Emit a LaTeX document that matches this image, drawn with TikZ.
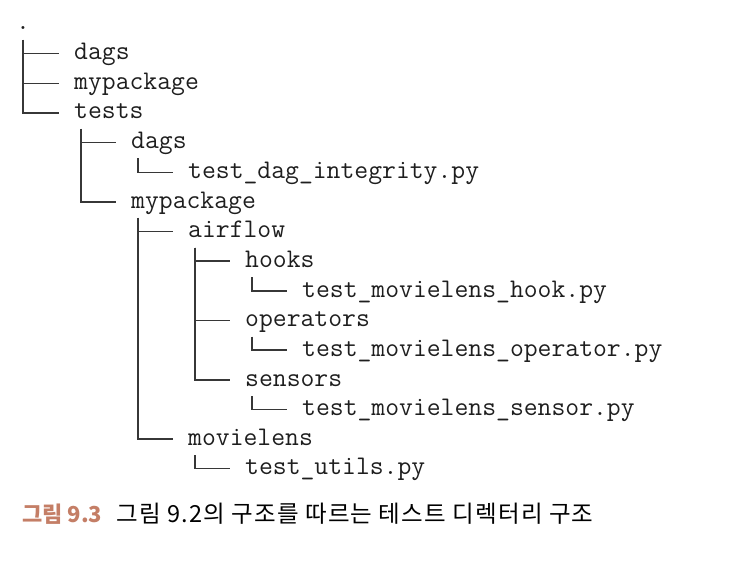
\documentclass[tikz,border=0pt]{standalone}
\usepackage{fontspec}
\newfontfamily\kofont{Noto Sans CJK KR}
\newfontfamily\kocapfont[LetterSpace=5]{Noto Sans CJK KR}
\usetikzlibrary{positioning}
\definecolor{figred}{RGB}{196,126,102}
\definecolor{treegray}{RGB}{55,55,55}
\definecolor{textgray}{RGB}{30,30,30}

\begin{document}
\begin{tikzpicture}[x=1pt, y=1pt,
    main/.style = {anchor=base west, inner sep=0pt, text=textgray, font=\fontsize{26.9}{30}\selectfont\ttfamily},
    branch/.style = {draw=treegray, line width=1.2pt, shorten >=15pt},
    figlabel/.style = {anchor=base west, inner sep=0pt, text=figred, font=\fontsize{22}{26}\selectfont\kofont\bfseries},
    caption/.style = {inner sep=0pt, text=black, font=\fontsize{23.5}{27}\selectfont\kocapfont}]
    \useasboundingbox (0,0) rectangle (736,-564);

    % rows: baseline = row centre + 6.5
    \node[main] (root) at (16,-30) {.};
    \node[main] (dags) at (74,-59.5) {dags};
    \node[main] (mypkg) at (74,-89.5) {mypackage};
    \node[main] (tests) at (74,-119) {tests};
    \node[main] (tdags) at (131,-148.5) {dags};
    \node[main] (tinteg) at (188,-178.5) {test\_dag\_integrity.py};
    \node[main] (tpkg) at (131,-208) {mypackage};
    \node[main] (airflow) at (188,-237.5) {airflow};
    \node[main] (hooks) at (245,-267) {hooks};
    \node[main] (thook) at (302,-297) {test\_movielens\_hook.py};
    \node[main] (ops) at (245,-326.5) {operators};
    \node[main] (top) at (302,-356) {test\_movielens\_operator.py};
    \node[main] (sensors) at (245,-386) {sensors};
    \node[main] (tsensor) at (302,-415.5) {test\_movielens\_sensor.py};
    \node[main] (movielens) at (188,-445) {movielens};
    \node[main] (tutils) at (245,-474.5) {test\_utils.py};

    % tree lines
    \draw[branch] ([shift={(7,-10)}]root.base west) |- ([yshift=6]dags.base west);
    \draw[branch] ([shift={(7,-10)}]root.base west) |- ([yshift=6]mypkg.base west);
    \draw[branch] ([shift={(7,-10)}]root.base west) |- ([yshift=6]tests.base west);
    \draw[branch] ([shift={(7,-10)}]tests.base west) |- ([yshift=6]tdags.base west);
    \draw[branch] ([shift={(7,-10)}]tests.base west) |- ([yshift=6]tpkg.base west);
    \draw[branch] ([shift={(7,-10)}]tdags.base west) |- ([yshift=6]tinteg.base west);
    \draw[branch] ([shift={(7,-10)}]tpkg.base west) |- ([yshift=6]airflow.base west);
    \draw[branch] ([shift={(7,-10)}]tpkg.base west) |- ([yshift=6]movielens.base west);
    \draw[branch] ([shift={(7,-10)}]airflow.base west) |- ([yshift=6]hooks.base west);
    \draw[branch] ([shift={(7,-10)}]airflow.base west) |- ([yshift=6]ops.base west);
    \draw[branch] ([shift={(7,-10)}]airflow.base west) |- ([yshift=6]sensors.base west);
    \draw[branch] ([shift={(7,-10)}]hooks.base west) |- ([yshift=6]thook.base west);
    \draw[branch] ([shift={(7,-10)}]ops.base west) |- ([yshift=6]top.base west);
    \draw[branch] ([shift={(7,-10)}]sensors.base west) |- ([yshift=6]tsensor.base west);
    \draw[branch] ([shift={(7,-10)}]movielens.base west) |- ([yshift=6]tutils.base west);

    % caption
    \node[figlabel] (fignum) at (22,-522) {그림 9.3};
    \node[caption] (cap) [base right=14pt of fignum] {그림 9.2의 구조를 따르는 테스트 디렉터리 구조};
\end{tikzpicture}
\end{document}
